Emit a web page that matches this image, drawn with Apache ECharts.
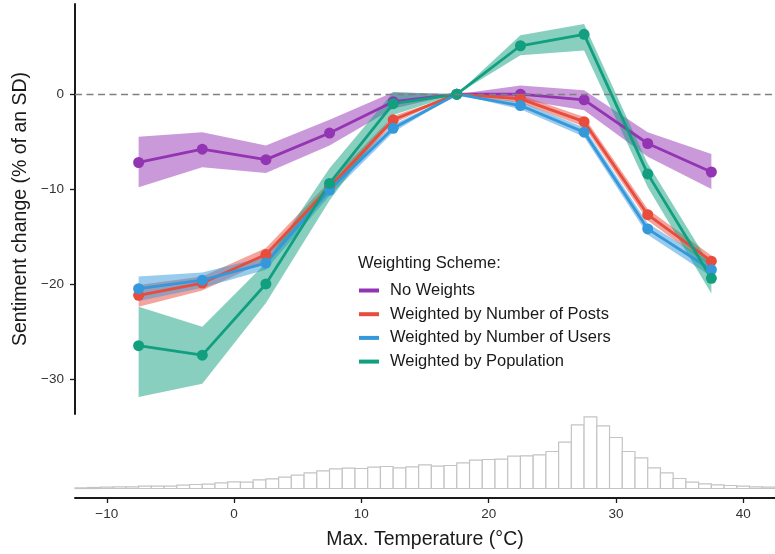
<!DOCTYPE html>
<html lang="en">
<head>
<meta charset="UTF-8"/>
<script src="https://cdn.jsdelivr.net/npm/echarts@6/dist/echarts.min.js"></script>
<title>Sentiment change by max temperature</title>
<style>html,body{margin:0;padding:0;background:#fff;}</style>
</head>
<body>
<div id="main" style="width:775px;height:554px;"></div>
<script type="text/javascript">
// bin centres (°C) for the sentiment estimates
var temps = [-7.5, -2.5, 2.5, 7.5, 12.5, 17.5, 22.5, 27.5, 32.5, 37.5];

var noWeights   = [-7.2, -5.8, -6.9, -4.1, -0.8, 0, 0, -0.6, -5.2, -8.2];
var noWeightsLo = [-9.8, -7.7, -8.3, -5.4, -1.5, 0, -0.6, -1.7, -6.6, -10.0];
var noWeightsHi = [-4.5, -4.0, -5.4, -2.7, 0.2, 0, 0.9, 0.4, -4.0, -6.3];

var posts   = [-21.2, -19.9, -16.9, -9.8, -2.7, 0, -0.5, -2.9, -12.7, -17.6];
var postsLo = [-22.4, -20.7, -17.6, -10.4, -3.1, 0, -0.9, -3.4, -13.3, -18.2];
var postsHi = [-20.1, -19.2, -16.2, -9.2, -2.3, 0, -0.1, -2.4, -12.1, -17.0];

var users   = [-20.5, -19.6, -17.8, -10.1, -3.6, 0, -1.2, -4.0, -14.2, -18.5];
var usersLo = [-21.8, -20.4, -18.5, -10.7, -4.0, 0, -1.6, -4.5, -14.8, -19.2];
var usersHi = [-19.2, -18.8, -17.1, -9.5, -3.2, 0, -0.8, -3.5, -13.6, -17.8];

var pop   = [-26.5, -27.5, -20.0, -9.4, -1.0, 0, 5.1, 6.3, -8.4, -19.4];
var popLo = [-31.9, -30.5, -22.0, -11.2, -2.2, 0, 4.1, 4.6, -9.8, -21.0];
var popHi = [-22.4, -24.5, -17.8, -7.8, 0.2, 0, 6.2, 7.4, -7.3, -18.2];

// histogram of max temperature (1 °C bins, relative counts)
var histTemps = [-12, -11, -10, -9, -8, -7, -6, -5, -4, -3, -2, -1, 0, 1, 2, 3, 4, 5, 6, 7, 8, 9,
                 10, 11, 12, 13, 14, 15, 16, 17, 18, 19, 20, 21, 22, 23, 24, 25, 26, 27, 28, 29,
                 30, 31, 32, 33, 34, 35, 36, 37, 38, 39, 40, 41, 42];
var histCounts = [2, 3, 4, 5, 5, 7, 7, 7, 10, 12, 13, 17, 20, 19, 26, 29, 34, 40, 47, 53, 59, 61,
                  60, 64, 66, 62, 65, 71, 67, 69, 77, 85, 87, 88, 97, 98, 101, 111, 139, 191, 215, 188,
                  153, 111, 92, 62, 47, 30, 19, 14, 11, 9, 7, 5, 4];

var yTicks = [-30, -20, -10, 0];
var xTicks = [-10, 0, 10, 20, 30, 40];

var names = ['No Weights', 'Weighted by Number of Posts', 'Weighted by Number of Users', 'Weighted by Population'];
var colors = ['#9334b3', '#e74c3c', '#3498db', '#119f80'];
var mids = [noWeights, posts, users, pop];
var los = [noWeightsLo, postsLo, usersLo, popLo];
var his = [noWeightsHi, postsHi, usersHi, popHi];

var FONT = 'Liberation Sans, Arial, sans-serif';
function minus(v) { return String(v).replace('-', '\u2212'); }

var myChart = echarts.init(document.getElementById('main'));

var series = [];
// dashed reference line at 0
series.push({
    type: 'line', xAxisIndex: 0, yAxisIndex: 0, data: [], silent: true,
    markLine: {
        silent: true, symbol: 'none', label: {show: false},
        lineStyle: {color: '#808080', width: 1.3, type: [7, 4.5]},
        data: [{yAxis: 0}]
    }
});
// confidence ribbons
for (var k = 0; k < 4; k++) {
    (function (k) {
        var d = [];
        for (var i = 0; i < temps.length; i++) d.push([temps[i], los[k][i], his[k][i]]);
        series.push({
            type: 'custom', name: names[k] + ' band', xAxisIndex: 0, yAxisIndex: 0,
            silent: true, encode: {x: 0, y: [1, 2]}, data: d,
            renderItem: function (params, api) {
                if (params.dataIndex !== 0) return null;
                var pts = [];
                for (var i = 0; i < temps.length; i++) pts.push(api.coord([temps[i], his[k][i]]));
                for (var j = temps.length - 1; j >= 0; j--) pts.push(api.coord([temps[j], los[k][j]]));
                return {type: 'polygon', shape: {points: pts}, style: {fill: colors[k], opacity: 0.5}};
            }
        });
    })(k);
}
// lines with points
for (var k = 0; k < 4; k++) {
    var d = [];
    for (var i = 0; i < temps.length; i++) d.push([temps[i], mids[k][i]]);
    series.push({
        type: 'line', name: names[k], xAxisIndex: 0, yAxisIndex: 0, data: d,
        symbol: 'circle', symbolSize: 11, showSymbol: true,
        itemStyle: {color: colors[k]},
        lineStyle: {color: colors[k], width: 2.8}
    });
}
// histogram
var hd = [];
for (var i = 0; i < histTemps.length; i++) hd.push([histTemps[i], histCounts[i]]);
series.push({
    type: 'custom', xAxisIndex: 1, yAxisIndex: 1, silent: true, encode: {x: 0, y: 1}, data: hd,
    renderItem: function (params, api) {
        var t = api.value(0), c = api.value(1);
        var p0 = api.coord([t - 0.5, c]);
        var p1 = api.coord([t + 0.5, 0]);
        return {
            type: 'rect',
            shape: {x: p0[0], y: p0[1], width: p1[0] - p0[0], height: p1[1] - p0[1]},
            style: {fill: '#ffffff', stroke: '#c4c4c4', lineWidth: 1.2}
        };
    }
});

var option = {
    animation: false,
    backgroundColor: '#ffffff',
    textStyle: {fontFamily: FONT},
    title: {
        text: 'Weighting Scheme:', left: 358, top: 255, padding: 0,
        textStyle: {fontFamily: FONT, fontSize: 16.5, fontWeight: 'normal', color: '#1a1a1a'}
    },
    legend: {
        data: names, orient: 'vertical', left: 359, top: 282, padding: 0,
        icon: 'rect', itemWidth: 20, itemHeight: 4, itemGap: 6.7,
        textStyle: {fontFamily: FONT, fontSize: 16.5, lineHeight: 17, color: '#1a1a1a', padding: [0, 0, 0, 6]}
    },
    grid: [
        {left: 75, right: 0, top: 4, height: 410},
        {left: 75, right: 0, top: 410, bottom: 56}
    ],
    xAxis: [
        {type: 'value', gridIndex: 0, min: -12.5, max: 42.5, show: false},
        {
            type: 'value', gridIndex: 1, min: -12.5, max: 42.5,
            name: 'Max. Temperature (\u00B0C)', nameLocation: 'middle', nameGap: 32,
            nameTextStyle: {fontFamily: FONT, fontSize: 19.5, color: '#1a1a1a'},
            axisLine: {onZero: false, lineStyle: {color: '#1a1a1a', width: 2}},
            axisTick: {length: 5, customValues: xTicks, lineStyle: {color: '#1a1a1a', width: 1.3}},
            axisLabel: {customValues: xTicks, margin: 9, fontSize: 13.5, color: '#333', fontFamily: FONT, formatter: minus},
            splitLine: {show: false}
        }
    ],
    yAxis: [
        {
            type: 'value', gridIndex: 0, min: -33.7, max: 9.5,
            name: 'Sentiment change (% of an SD)', nameLocation: 'middle', nameGap: 42,
            nameTextStyle: {fontFamily: FONT, fontSize: 19.5, color: '#1a1a1a'},
            axisLine: {show: true, onZero: false, lineStyle: {color: '#1a1a1a', width: 2}},
            axisTick: {show: true, length: 5, customValues: yTicks, lineStyle: {color: '#1a1a1a', width: 1.3}},
            axisLabel: {customValues: yTicks, margin: 11, fontSize: 13.5, color: '#333', fontFamily: FONT, formatter: minus},
            splitLine: {show: false}
        },
        {type: 'value', gridIndex: 1, min: -28.5, max: 235.5, show: false}
    ],
    series: series
};
myChart.setOption(option);
</script>
</body>
</html>
